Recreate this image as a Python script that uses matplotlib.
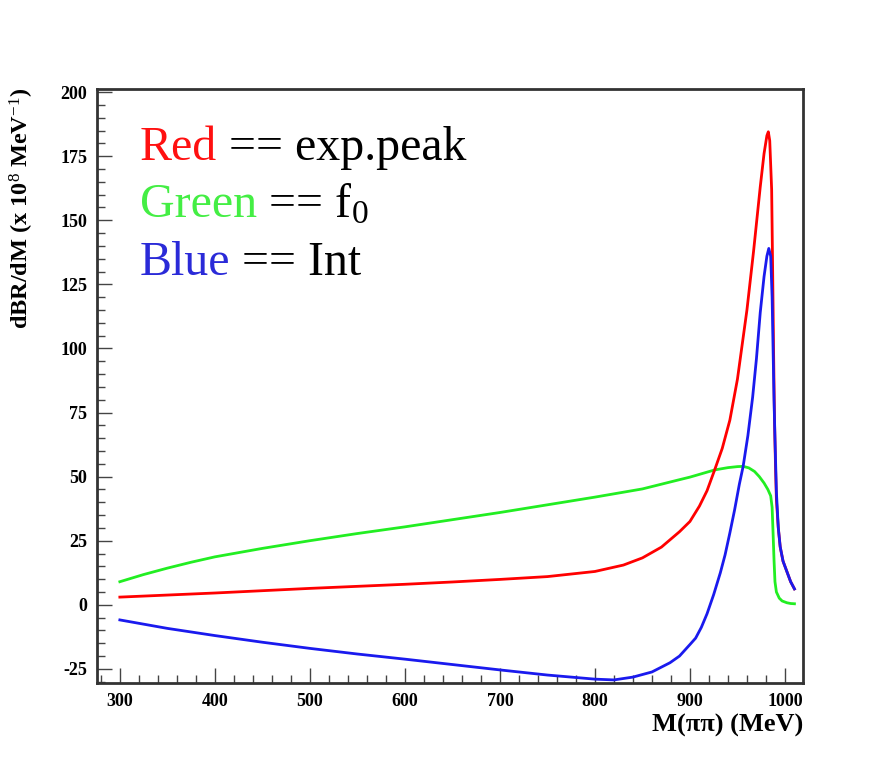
import matplotlib
matplotlib.use("Agg")
import matplotlib.pyplot as plt
from matplotlib.ticker import MultipleLocator

plt.rcParams['font.family'] = ['Liberation Serif', 'DejaVu Serif']
plt.rcParams['mathtext.fontset'] = 'custom'
plt.rcParams['mathtext.rm'] = 'Liberation Serif'
plt.rcParams['mathtext.it'] = 'Liberation Serif:italic'
plt.rcParams['mathtext.bf'] = 'Liberation Serif:bold'
plt.rcParams['axes.unicode_minus'] = False

# ---- data ----
red_m = [300, 350, 400, 450, 500, 550, 600, 650, 700, 750, 800, 830, 850, 870, 889,
         900, 910, 918, 926, 934, 942, 950, 960, 967, 974, 978, 981, 982.5, 984,
         986, 987, 988, 989, 990, 991, 993, 995, 998, 1002, 1006, 1010]
red_v = [3.0, 3.8, 4.6, 5.5, 6.4, 7.2, 8.0, 8.9, 9.9, 11.0, 13.0, 15.5, 18.3, 22.5, 28.5,
         32.5, 38.5, 44.5, 52.6, 61.0, 72.0, 88.0, 115.0, 138.0, 163.0, 176.0, 183.0, 184.5, 181.0,
         162.0, 132.0, 100.0, 72.0, 55.0, 41.0, 30.0, 22.6, 17.0, 13.0, 9.0, 6.2]

green_m = [300, 325, 350, 375, 400, 450, 500, 550, 600, 650, 700, 750, 800, 850, 889,
           900, 926, 940, 950, 956, 962, 968, 973, 978, 982, 985, 986.5, 987.5, 988.5,
           989.5, 991, 994, 997, 1002, 1006, 1010]
green_v = [9.0, 11.8, 14.3, 16.6, 18.7, 22.0, 25.0, 27.8, 30.4, 33.2, 36.0, 39.0, 42.0, 45.2, 48.8,
           49.8, 52.6, 53.5, 53.9, 54.0, 53.4, 52.0, 50.0, 47.5, 45.0, 42.5, 38.0, 28.0, 17.5,
           9.0, 5.0, 2.6, 1.5, 0.8, 0.5, 0.4]

blue_m = [300, 350, 400, 450, 500, 550, 600, 650, 700, 750, 800, 820, 840, 860, 879,
          889, 900, 906, 912, 918, 925, 932, 937, 942, 947, 952, 956, 961, 966, 970, 974, 978,
          981, 983, 985, 986.5, 987.5, 988.5, 989.5, 991, 993, 995, 998, 1002, 1006, 1010]
blue_v = [-5.9, -9.2, -12.0, -14.6, -17.0, -19.2, -21.2, -23.3, -25.4, -27.4, -29.0, -29.3, -28.2, -26.2, -22.6,
          -20.0, -15.5, -13.0, -8.8, -3.5, 4.0, 12.5, 19.5, 28.0, 37.0, 47.0, 54.0, 66.0, 81.0, 96.0, 114.0, 128.0,
          136.0, 139.0, 136.0, 120.0, 100.0, 80.0, 65.0, 44.0, 30.0, 22.6, 17.0, 13.0, 9.0, 6.2]

x_ticks = [300, 400, 500, 600, 700, 800, 900, 1000]
y_ticks = [-25, 0, 25, 50, 75, 100, 125, 150, 175, 200]

fig = plt.figure(figsize=(8.83, 7.65), dpi=100)
ax = fig.add_axes([0.1099, 0.1072, 0.7995, 0.7765])

lw = 2.0
ax.plot(green_m, green_v, color='#22ee22', lw=lw)
ax.plot(red_m, red_v, color='#ff0000', lw=lw)
ax.plot(blue_m, blue_v, color='#1a1aee', lw=lw)

ax.set_xlim(276, 1019)
ax.set_ylim(-30.5, 201.2)
ax.set_xticks(x_ticks)
ax.set_yticks(y_ticks)
ax.xaxis.set_minor_locator(MultipleLocator(20))
ax.yaxis.set_minor_locator(MultipleLocator(5))
ax.tick_params(which='both', direction='in', top=False, right=False,
               color='#444444', width=1.0)
ax.tick_params(which='major', length=11, labelsize=13, pad=7)
ax.tick_params(which='minor', length=6)
for lab in ax.get_xticklabels() + ax.get_yticklabels():
    lab.set_fontweight('bold')
for sp in ax.spines.values():
    sp.set_linewidth(2.0)
    sp.set_color('#333333')

fig.text(803 / 883, 1 - 725 / 765, 'M(ππ) (MeV)', ha='right', va='center',
         fontsize=19, fontweight='bold')
fig.text(22 / 883, 1 - 88 / 765, r'dBR/dM (x 10$^{8}$ MeV$^{-1}$)', ha='center', va='top',
         rotation=90, fontsize=17.5, fontweight='bold')

fs = 34.5
rows = [("Red", '#ff1010', " == exp.peak", 160),
        ("Green", '#44ee44', r" == f$_0$", 217),
        ("Blue", '#2a2ad8', " == Int", 275)]
for word, col, rest, base in rows:
    t = fig.text(140 / 883, 1 - base / 765, word, color=col, fontsize=fs,
                 ha='left', va='baseline')
    ax.annotate(rest, xy=(1, 0), xycoords=t, va='bottom', ha='left',
                fontsize=fs, color='black', annotation_clip=False)

fig.savefig('out.png', dpi=100)
